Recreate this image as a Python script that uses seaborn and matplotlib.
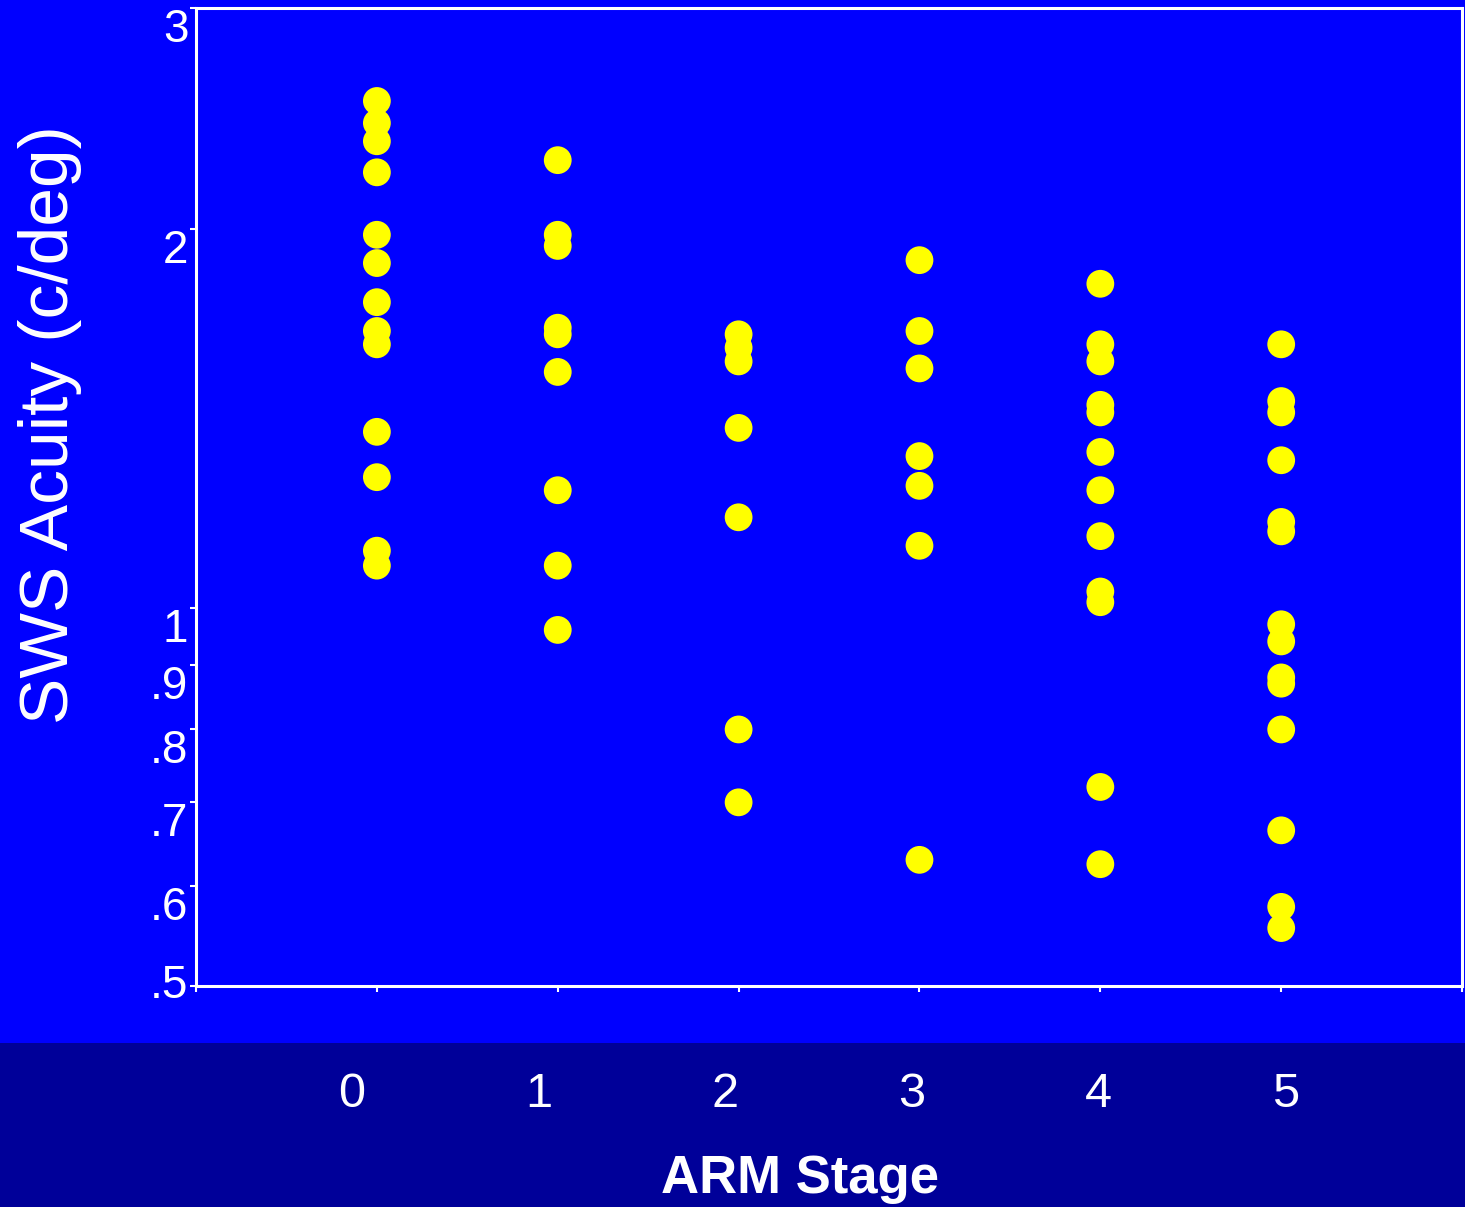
import numpy as np
import pandas as pd
import seaborn as sns
import matplotlib.pyplot as plt
from matplotlib.patches import Rectangle

# acuity values, per ARM stage
stage0 = [2.53, 2.43, 2.35, 2.22, 1.98, 1.88, 1.75, 1.66, 1.62, 1.38, 1.27, 1.11, 1.08]
stage1 = [2.27, 1.98, 1.94, 1.67, 1.65, 1.54, 1.24, 1.08, 0.96]
stage2 = [1.65, 1.61, 1.57, 1.39, 1.18, 0.80, 0.70]
stage3 = [1.89, 1.66, 1.55, 1.32, 1.25, 1.12, 0.63]
stage4 = [1.81, 1.62, 1.57, 1.45, 1.43, 1.33, 1.24, 1.14, 1.03, 1.01, 0.72, 0.625]
stage5 = [1.62, 1.46, 1.43, 1.31, 1.17, 1.15, 0.97, 0.94, 0.88, 0.87, 0.80, 0.665, 0.578, 0.556]

stages = [0, 1, 2, 3, 4, 5]
ytick_vals = [0.5, 0.6, 0.7, 0.8, 0.9, 1, 2, 3]
ytick_labels = ['.5', '.6', '.7', '.8', '.9', '1', '2', '3']

groups = [stage0, stage1, stage2, stage3, stage4, stage5]
df = pd.DataFrame({
    "stage": np.repeat(stages, [len(g) for g in groups]),
    "acuity": np.concatenate(groups),
})

sns.set_style("white")
plt.rcParams['font.family'] = ['Liberation Sans', 'DejaVu Sans']

BLUE = '#0000FF'
DARK = '#000099'
YELLOW = '#FFFF00'

fig = plt.figure(figsize=(14.65, 12.07), dpi=100, facecolor=BLUE)
# dark band at the bottom, drawn under everything else
fig.patches.append(Rectangle((0, 0), 1, 0.1359, transform=fig.transFigure,
                             facecolor=DARK, edgecolor='none', zorder=-1))

ax = fig.add_axes([0.1338, 0.1831, 0.8642, 0.8103])
ax.set_facecolor(BLUE)

sns.scatterplot(data=df, x="stage", y="acuity", color=YELLOW, s=400,
                edgecolor='none', linewidth=0, ax=ax, zorder=3)

ax.set_yscale('log')
ax.set_ylim(0.5, 3)
ax.set_xlim(-1, 6)
ax.yaxis.set_major_locator(plt.FixedLocator(ytick_vals))
ax.yaxis.set_minor_locator(plt.NullLocator())
ax.set_yticklabels(ytick_labels)
ax.set_xticks(range(-1, 7))
ax.set_xticklabels([])

for s in ax.spines.values():
    s.set_color('white')
    s.set_linewidth(2.2)
    s.set_visible(True)

ax.tick_params(axis='y', direction='out', length=4.5, width=1.5, color='white',
               labelcolor='white', labelsize=33, pad=1, left=True)
ax.tick_params(axis='x', direction='out', length=4, width=1.5, color='white', bottom=True)
for lab in ax.get_yticklabels():
    lab.set_va('top' if lab.get_text() != '.5' else 'center')

ax.set_ylabel("SWS Acuity (c/deg)", color='white', fontsize=50)
ax.yaxis.set_label_coords(-0.09, 0.574)
ax.set_xlabel("ARM Stage", color='white', fontsize=38, fontweight='bold')
ax.xaxis.set_label_coords(0.477, -0.172)

# the stage numbers sit a little off the tick marks in the original
ax2 = ax.twiny()
ax2.set_xlim(-0.836, 5.948)
ax2.set_xticks(stages)
ax2.set_xticklabels([str(s) for s in stages])
ax2.xaxis.set_ticks_position('bottom')
ax2.tick_params(axis='x', length=0, pad=62, labelsize=35, colors='white')
for s in ax2.spines.values():
    s.set_visible(False)

fig.savefig("out.png", dpi=100, facecolor=BLUE)
